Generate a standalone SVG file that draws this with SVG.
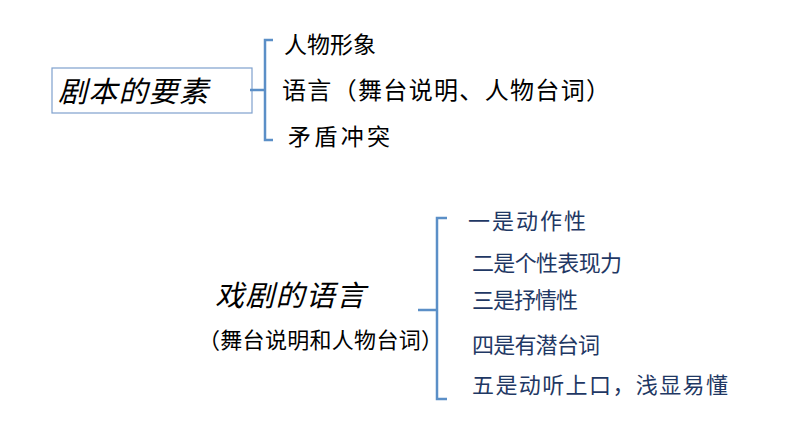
<svg xmlns="http://www.w3.org/2000/svg" width="794" height="447" viewBox="0 0 794 447">
<style>
.t{font-family:"Noto Sans CJK SC","Liberation Sans",sans-serif;fill:#000}
.b{fill:none;stroke:#5b8fc7;stroke-width:2.5}
.i{font-style:italic}
.n{fill:#1f3864;font-size:22px}
</style>
<rect width="794" height="447" fill="#fff"/>
<g id="elements">
<rect x="52" y="68" width="200" height="45" fill="none" stroke="#7fa1cd" stroke-width="1.2"/>
<text class="t i" x="58" y="102" font-size="29" fill="#1a1a1a" textLength="150">剧本的要素</text>
</g>
<g id="connectors">
<path class="b" d="M273,40 H265 V140 H273 M250,90 H265"/>
<path class="b" d="M447,218 H437 V399 H447 M418,310 H437"/>
</g>
<g id="items-top">
<text class="t" x="284" y="53" font-size="23" textLength="92">人物形象</text>
<text class="t" x="282" y="99" font-size="24" textLength="328">语言（舞台说明、人物台词）</text>
<text class="t" x="288" y="145" font-size="23" textLength="102">矛盾冲突</text>
</g>
<g id="drama">
<text class="t i" x="215" y="306" font-size="29" textLength="150">戏剧的语言</text>
<text class="t" x="198" y="348" font-size="22" textLength="245">（舞台说明和人物台词）</text>
</g>
<g id="items-bottom">
<text class="t n" x="468" y="229" textLength="118">一是动作性</text>
<text class="t n" x="472" y="271" textLength="150">二是个性表现力</text>
<text class="t n" x="472" y="308" textLength="106">三是抒情性</text>
<text class="t n" x="472" y="353" textLength="128">四是有潜台词</text>
<text class="t n" x="472" y="393" textLength="256">五是动听上口，浅显易懂</text>
</g>
</svg>
